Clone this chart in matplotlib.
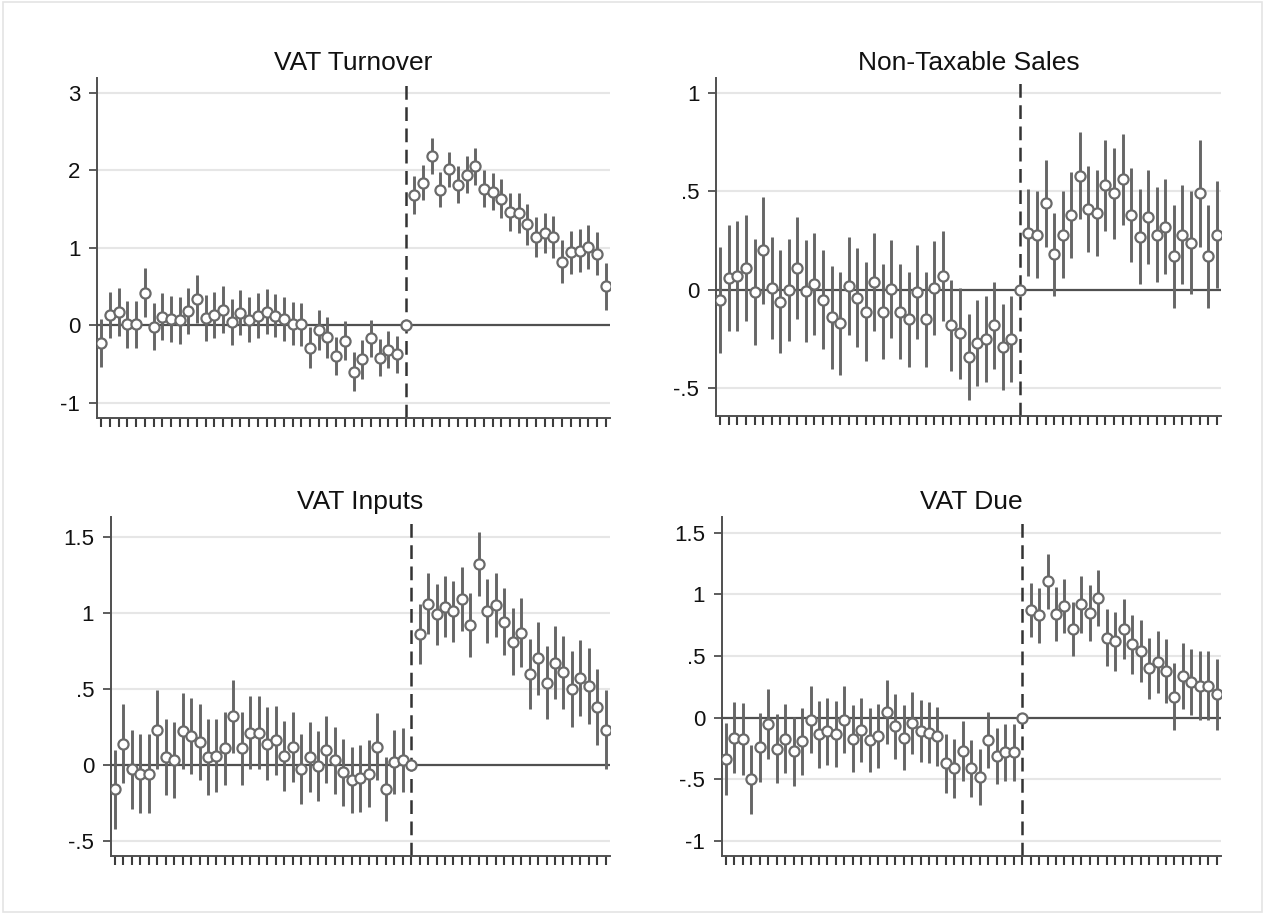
import matplotlib
matplotlib.use('Agg')
import matplotlib.pyplot as plt
from matplotlib.patches import Rectangle
from matplotlib.ticker import FuncFormatter

plt.rcParams['font.family'] = ['Liberation Sans', 'DejaVu Sans']

# event time: 35 leads, the reference period (0) and 23 lags
periods = list(range(-35, 24))

turnover_coef = [-0.23, 0.13, 0.17, 0.01, 0.01, 0.42, -0.02, 0.11, 0.08, 0.06, 0.18, 0.34,
                 0.09, 0.13, 0.20, 0.04, 0.16, 0.07, 0.12, 0.17, 0.12, 0.08, 0.02, 0.01,
                 -0.29, -0.06, -0.16, -0.40, -0.20, -0.60, -0.44, -0.17, -0.42, -0.32, -0.38, 0.0,
                 1.68, 1.84, 2.18, 1.75, 2.01, 1.81, 1.94, 2.05, 1.76, 1.72, 1.63, 1.46,
                 1.45, 1.30, 1.14, 1.19, 1.14, 0.82, 0.94, 0.96, 1.01, 0.92, 0.50]
turnover_ci = [0.31, 0.30, 0.31, 0.30, 0.30, 0.32, 0.30, 0.30, 0.30, 0.30, 0.30, 0.31,
               0.30, 0.30, 0.30, 0.30, 0.29, 0.29, 0.29, 0.29, 0.28, 0.28, 0.28, 0.28,
               0.27, 0.26, 0.26, 0.25, 0.25, 0.25, 0.25, 0.24, 0.24, 0.24, 0.24, 0.0,
               0.24, 0.23, 0.23, 0.23, 0.23, 0.24, 0.24, 0.24, 0.24, 0.24, 0.25, 0.25,
               0.26, 0.26, 0.26, 0.26, 0.27, 0.28, 0.28, 0.28, 0.28, 0.28, 0.30]

nontax_coef = [-0.05, 0.06, 0.07, 0.11, -0.01, 0.20, 0.01, -0.06, 0.00, 0.11, -0.005, 0.03,
               -0.05, -0.14, -0.17, 0.02, -0.04, -0.11, 0.04, -0.11, 0.005, -0.11, -0.15, -0.01,
               -0.15, 0.01, 0.07, -0.18, -0.22, -0.34, -0.27, -0.25, -0.18, -0.29, -0.25, 0.0,
               0.29, 0.28, 0.44, 0.18, 0.28, 0.38, 0.58, 0.41, 0.39, 0.53, 0.49, 0.56,
               0.38, 0.27, 0.37, 0.28, 0.32, 0.17, 0.28, 0.24, 0.49, 0.17, 0.28]
nontax_ci = [0.27, 0.27, 0.28, 0.27, 0.27, 0.27, 0.26, 0.26, 0.26, 0.26, 0.26, 0.26,
             0.25, 0.26, 0.26, 0.25, 0.25, 0.25, 0.25, 0.24, 0.25, 0.24, 0.24, 0.24,
             0.24, 0.24, 0.23, 0.23, 0.23, 0.22, 0.22, 0.22, 0.22, 0.22, 0.22, 0.0,
             0.22, 0.22, 0.22, 0.21, 0.22, 0.22, 0.22, 0.22, 0.22, 0.23, 0.23, 0.23,
             0.24, 0.24, 0.24, 0.24, 0.24, 0.26, 0.25, 0.26, 0.27, 0.26, 0.27]

inputs_coef = [-0.16, 0.14, -0.03, -0.06, -0.06, 0.23, 0.05, 0.03, 0.22, 0.19, 0.15, 0.05,
               0.06, 0.11, 0.32, 0.11, 0.21, 0.21, 0.14, 0.16, 0.06, 0.12, -0.03, 0.05,
               -0.01, 0.10, 0.03, -0.05, -0.10, -0.09, -0.06, 0.12, -0.16, 0.02, 0.03, 0.0,
               0.86, 1.06, 0.99, 1.04, 1.01, 1.09, 0.92, 1.32, 1.01, 1.05, 0.94, 0.81,
               0.87, 0.60, 0.70, 0.54, 0.67, 0.61, 0.50, 0.57, 0.52, 0.38, 0.23]
inputs_ci = [0.26, 0.26, 0.26, 0.26, 0.26, 0.26, 0.25, 0.25, 0.25, 0.25, 0.25, 0.25,
             0.24, 0.24, 0.24, 0.24, 0.24, 0.24, 0.24, 0.23, 0.23, 0.23, 0.23, 0.23,
             0.23, 0.22, 0.22, 0.22, 0.22, 0.22, 0.22, 0.22, 0.21, 0.21, 0.21, 0.0,
             0.20, 0.20, 0.20, 0.20, 0.20, 0.21, 0.21, 0.21, 0.21, 0.21, 0.22, 0.22,
             0.23, 0.23, 0.24, 0.24, 0.24, 0.24, 0.25, 0.25, 0.25, 0.25, 0.26]

due_coef = [-0.335, -0.16, -0.17, -0.50, -0.24, -0.05, -0.25, -0.17, -0.27, -0.19, -0.016, -0.135,
            -0.11, -0.13, -0.016, -0.17, -0.10, -0.18, -0.15, 0.05, -0.07, -0.16, -0.04, -0.105,
            -0.12, -0.15, -0.37, -0.41, -0.27, -0.41, -0.48, -0.18, -0.31, -0.28, -0.28, 0.0,
            0.876, 0.83, 1.105, 0.84, 0.905, 0.72, 0.92, 0.85, 0.97, 0.65, 0.62, 0.72,
            0.595, 0.54, 0.40, 0.45, 0.38, 0.17, 0.34, 0.29, 0.26, 0.26, 0.19]
due_ci = [0.29, 0.29, 0.29, 0.28, 0.28, 0.28, 0.28, 0.28, 0.28, 0.27, 0.27, 0.27,
          0.27, 0.27, 0.27, 0.27, 0.26, 0.26, 0.26, 0.26, 0.26, 0.26, 0.25, 0.25,
          0.25, 0.24, 0.24, 0.24, 0.24, 0.23, 0.23, 0.23, 0.23, 0.23, 0.23, 0.0,
          0.22, 0.22, 0.22, 0.22, 0.22, 0.22, 0.23, 0.23, 0.23, 0.23, 0.24, 0.24,
          0.24, 0.25, 0.25, 0.25, 0.26, 0.27, 0.27, 0.27, 0.28, 0.28, 0.29]

titles = ['VAT Turnover', 'Non-Taxable Sales', 'VAT Inputs', 'VAT Due']
coefs = [turnover_coef, nontax_coef, inputs_coef, due_coef]
cis = [turnover_ci, nontax_ci, inputs_ci, due_ci]
yticks = [[-1, 0, 1, 2, 3], [-0.5, 0, 0.5, 1], [-0.5, 0, 0.5, 1, 1.5], [-1, -0.5, 0, 0.5, 1, 1.5]]
ylims = [(-1.2, 3.19), (-0.64, 1.075), (-0.6, 1.63), (-1.12, 1.627)]

# axes boxes in figure pixels: left, top, right, bottom
W, H = 1264, 914
boxes = [(97, 78, 610, 418), (716, 78, 1221, 416), (110.7, 517, 610, 856), (721.7, 517, 1221, 856)]


def stata_fmt(v, pos):
    s = f'{v:g}'
    s = s.replace('0.', '.') if abs(v) < 1 and v != 0 else s
    return s


fig = plt.figure(figsize=(W / 100, H / 100), dpi=100)
fig.patches.append(Rectangle((3 / W, 2 / H), 1259 / W, 910 / H, transform=fig.transFigure,
                             fill=False, edgecolor='#e4e4e4', linewidth=1.2))

dark = '#505050'
for i in range(4):
    l, t, r, b = boxes[i]
    ax = fig.add_axes([l / W, 1 - b / H, (r - l) / W, (b - t) / H])
    ax.set_xlim(periods[0] - 0.5, periods[-1] + 0.5)
    ax.set_ylim(*ylims[i])

    for yt in yticks[i]:
        if yt != 0:
            ax.axhline(yt, color='#e6e6e6', lw=1.5, zorder=0)
    ax.axhline(0, color=dark, lw=1.6, zorder=1)
    ax.axvline(0, color='#333333', lw=1.8, dashes=(5.5, 3), zorder=1)

    ax.errorbar(periods, coefs[i], yerr=cis[i], fmt='none', ecolor='#666666',
                elinewidth=2.1, capsize=0, zorder=2)
    ax.plot(periods, coefs[i], 'o', ms=7.3, mfc='white', mec='#6a6a6a', mew=1.6,
            linestyle='none', zorder=3)

    ax.set_title(titles[i], fontsize=19, pad=6, color='#111111')
    ax.set_yticks(yticks[i])
    ax.yaxis.set_major_formatter(FuncFormatter(stata_fmt))
    ax.set_xticks(periods)
    ax.set_xticklabels([])
    ax.tick_params(axis='y', labelsize=16, length=6, width=1.3, color=dark, pad=6, labelcolor='#111111')
    ax.tick_params(axis='x', length=6.5, width=1.5, color='#3c3c3c')

    for side in ['top', 'right']:
        ax.spines[side].set_visible(False)
    for side in ['left', 'bottom']:
        ax.spines[side].set_color(dark)
        ax.spines[side].set_linewidth(1.4)

fig.savefig('out.png', dpi=100)
